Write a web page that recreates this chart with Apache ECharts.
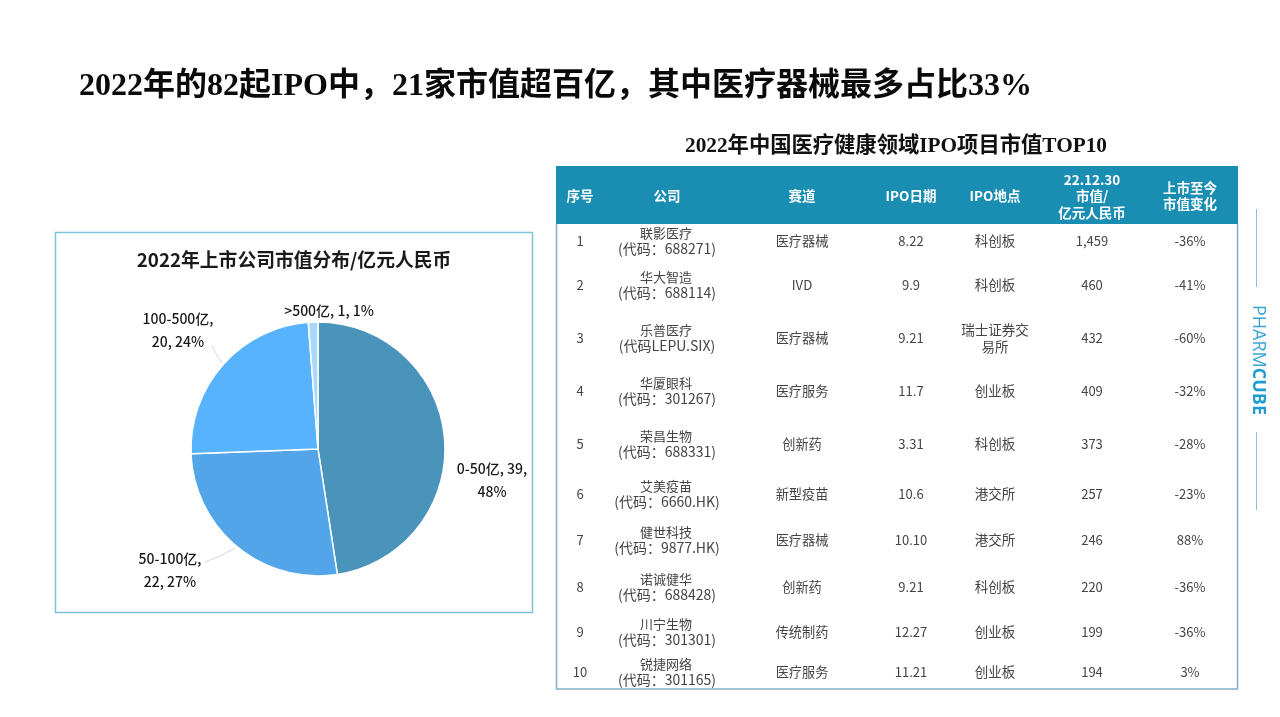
<!DOCTYPE html>
<html lang="zh-CN">
<head>
  <meta charset="UTF-8">
  <title>2022年IPO市值</title>
  <style>
    html, body { margin: 0; padding: 0; background: #fff; }
    #chart { width: 1280px; height: 717px; }
  </style>
</head>
<body>
<div id="chart"></div>
<script src="https://cdn.jsdelivr.net/npm/echarts@6/dist/echarts.min.js"></script>
<script>
  const pageTitle = '2022年的82起IPO中，21家市值超百亿，其中医疗器械最多占比33%';
  const pieTitle = '2022年上市公司市值分布/亿元人民币';
  const tableTitle = '2022年中国医疗健康领域IPO项目市值TOP10';

  const pieNames = ['0-50亿', '50-100亿', '100-500亿', '>500亿'];
  const pieValues = [39, 22, 20, 1];

  const tableHeaders = ['序号', '公司', '赛道', 'IPO日期', 'IPO地点', '22.12.30\n市值/\n亿元人民币', '上市至今\n市值变化'];
  const rank = ['1', '2', '3', '4', '5', '6', '7', '8', '9', '10'];
  const company = ['联影医疗', '华大智造', '乐普医疗', '华厦眼科', '荣昌生物', '艾美疫苗', '健世科技', '诺诚健华', '川宁生物', '锐捷网络'];
  const stockCode = ['(代码：688271)', '(代码：688114)', '(代码LEPU.SIX)', '(代码：301267)', '(代码：688331)', '(代码：6660.HK)', '(代码：9877.HK)', '(代码：688428)', '(代码：301301)', '(代码：301165)'];
  const sector = ['医疗器械', 'IVD', '医疗器械', '医疗服务', '创新药', '新型疫苗', '医疗器械', '创新药', '传统制药', '医疗服务'];
  const ipoDate = ['8.22', '9.9', '9.21', '11.7', '3.31', '10.6', '10.10', '9.21', '12.27', '11.21'];
  const ipoPlace = ['科创板', '科创板', '瑞士证券交\n易所', '创业板', '科创板', '港交所', '港交所', '科创板', '创业板', '创业板'];
  const marketCap = ['1,459', '460', '432', '409', '373', '257', '246', '220', '199', '194'];
  const capChange = ['-36%', '-41%', '-60%', '-32%', '-28%', '-23%', '88%', '-36%', '-36%', '3%'];

  // layout of the table and of the pie labels, in page pixels
  const colX = [580, 667, 802, 911, 995, 1092, 1190];
  const rowY = [241, 285, 338, 391, 444, 494, 540, 587, 632, 672];
  const labelSpots = [[492, 480], [170, 570], [178, 330], [329, 311]];
  const leaderLines = [null, [[235, 548], [220, 556], [205, 562]], [[222, 363], [217, 355], [212, 346]], null];

  const CJK = '"Noto Sans CJK SC", "Noto Sans", sans-serif';
  const SERIF = '"Liberation Serif", "Noto Sans CJK SC", serif';
  const cellColor = '#444';

  function cellText(str, x, y, size, color, weight, lineHeight) {
    return {
      type: 'text',
      style: {
        text: str, x: x, y: y,
        align: 'center', verticalAlign: 'middle',
        fill: color,
        font: (weight || 'normal') + ' ' + size + 'px ' + CJK,
        lineHeight: lineHeight
      }
    };
  }

  function tableGraphic() {
    let items = [];
    // header band and thin frame
    items.push({type: 'rect', shape: {x: 556, y: 166, width: 682, height: 58}, style: {fill: '#1a8db3'}});
    items.push({
      type: 'polyline',
      shape: {points: [[556.5, 224], [556.5, 689], [1237.5, 689], [1237.5, 224]]},
      style: {stroke: '#84afc6', fill: null, lineWidth: 1.5}
    });
    tableHeaders.forEach(function (h, i) {
      items.push(cellText(h, colX[i], 196, 13.5, '#fff', 'bold', 16.5));
    });
    rank.forEach(function (r, i) {
      let y = rowY[i];
      items.push(cellText(r, colX[0], y, 13, cellColor));
      items.push(cellText(company[i], colX[1] - 1, y - 8, 13, cellColor));
      items.push(cellText(stockCode[i], colX[1], y + 8, 14, cellColor));
      items.push(cellText(sector[i], colX[2], y, 13.2, cellColor));
      items.push(cellText(ipoDate[i], colX[3], y, 13, cellColor));
      items.push(cellText(ipoPlace[i], colX[4], y, 13.5, cellColor, 'normal', 17));
      items.push(cellText(marketCap[i], colX[5], y, 13, cellColor));
      items.push(cellText(capChange[i], colX[6], y, 13, cellColor));
    });
    return items;
  }

  function sideGraphic() {
    return [
      {type: 'line', shape: {x1: 1256.5, y1: 209, x2: 1256.5, y2: 287}, style: {stroke: '#7cc4e0', lineWidth: 1}},
      {type: 'line', shape: {x1: 1256.5, y1: 432, x2: 1256.5, y2: 510}, style: {stroke: '#7cc4e0', lineWidth: 1}},
      {
        type: 'text', x: 1258, y: 360, rotation: -Math.PI / 2,
        style: {
          text: '{a|PHARM}{b|CUBE}',
          align: 'center', verticalAlign: 'middle',
          rich: {
            a: {fill: '#3aa6d4', font: 'normal 18px "Open Sans", sans-serif'},
            b: {fill: '#1f9bd0', font: 'bold 18px "Open Sans", sans-serif'}
          }
        }
      }
    ];
  }

  const chart = echarts.init(document.getElementById('chart'), null, {width: 1280, height: 717});
  chart.setOption({
    animation: false,
    backgroundColor: '#fff',
    color: ['#4a94bc', '#52a5e8', '#57b3fd', '#a9d8fb'],
    title: {
      text: pieTitle,
      left: 289, top: 245,
      textAlign: 'center',
      textStyle: {fontFamily: CJK, fontSize: 18.8, fontWeight: 'bold', color: '#1a1a1a'}
    },
    series: [{
      type: 'pie',
      center: [318, 449],
      radius: [0, 127],
      startAngle: 90,
      clockwise: true,
      itemStyle: {borderColor: '#fff', borderWidth: 1.5},
      label: {
        show: true,
        position: 'outside',
        fontFamily: CJK, fontSize: 14, fontWeight: 500, lineHeight: 23,
        color: '#1a1a1a', align: 'center',
        formatter: function (p) {
          const pct = Math.round(p.percent) + '%';
          if (p.dataIndex === 3) return p.name + ', ' + p.value + ', ' + pct;
          if (p.dataIndex === 0) return p.name + ', ' + p.value + ',\n' + pct;
          return p.name + ',\n' + p.value + ', ' + pct;
        }
      },
      labelLine: {show: true, length: 10, length2: 10, lineStyle: {color: '#c4c4c4', width: 0.7}},
      labelLayout: function (p) {
        let layout = {x: labelSpots[p.dataIndex][0], y: labelSpots[p.dataIndex][1], align: 'center', verticalAlign: 'middle'};
        if (leaderLines[p.dataIndex]) layout.labelLinePoints = leaderLines[p.dataIndex];
        return layout;
      },
      data: pieNames.map(function (n, i) {
        return {name: n, value: pieValues[i], labelLine: {show: !!leaderLines[i]}};
      })
    }],
    graphic: [
      {type: 'rect', shape: {x: 55.5, y: 232.5, width: 477, height: 380}, style: {fill: null, stroke: '#7cc3d6', lineWidth: 1.5}, z: -1},
      {
        type: 'text',
        style: {text: pageTitle, x: 79, y: 87, align: 'left', verticalAlign: 'middle', fill: '#0a0a0a', font: 'bold 32px ' + SERIF}
      },
      {
        type: 'text',
        style: {text: tableTitle, x: 896, y: 146, align: 'center', verticalAlign: 'middle', fill: '#111', font: 'bold 21.3px ' + SERIF}
      }
    ].concat(tableGraphic(), sideGraphic())
  });
</script>
</body>
</html>
